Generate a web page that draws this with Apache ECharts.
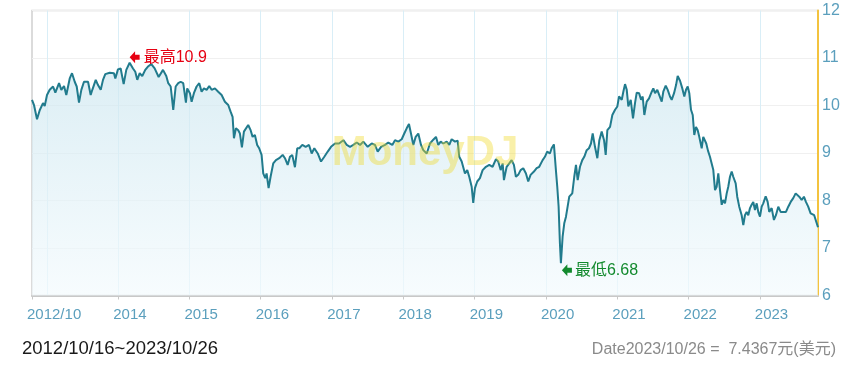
<!DOCTYPE html>
<html>
<head>
<meta charset="utf-8">
<script src="https://cdn.jsdelivr.net/npm/echarts@6/dist/echarts.min.js"></script>
<style>
html,body{margin:0;padding:0;background:#fff;}
#chart{width:850px;height:368px;}
</style>
</head>
<body>
<div id="chart"></div>
<script>
// ---- data (dates as decimal years, NAV values) ----
const years = [
2012.790,2012.818,2012.860,2012.898,2012.944,2012.968,2013.000,2013.038,2013.085,2013.117,
2013.169,2013.201,2013.239,2013.271,2013.319,2013.351,2013.389,2013.417,2013.449,2013.482,
2013.519,2013.576,2013.613,2013.636,2013.684,2013.716,2013.754,2013.786,2013.818,2013.880,
2013.940,2013.959,2013.996,2014.034,2014.076,2014.113,2014.160,2014.207,2014.239,2014.267,
2014.301,2014.337,2014.379,2014.417,2014.464,2014.511,2014.567,2014.628,2014.674,
2014.702,2014.736,2014.772,2014.806,2014.842,2014.876,2014.912,2014.950,2014.968,2015.006,
2015.030,2015.062,2015.100,2015.137,2015.170,2015.203,2015.241,2015.277,2015.311,2015.357,
2015.403,2015.451,2015.497,2015.544,2015.577,2015.605,2015.624,2015.652,2015.684,2015.708,
2015.736,2015.764,2015.792,2015.824,2015.858,2015.886,2015.918,2015.950,2015.978,2016.012,
2016.035,2016.063,2016.082,2016.110,2016.138,2016.175,2016.213,2016.259,2016.307,2016.339,
2016.377,2016.409,2016.441,2016.479,2016.511,2016.540,
2016.582,2016.629,2016.676,2016.713,2016.750,2016.798,2016.844,2016.890,2016.938,2016.984,
2017.040,2017.096,2017.157,2017.204,2017.251,2017.297,2017.345,2017.391,2017.437,2017.499,
2017.555,2017.601,2017.639,2017.686,2017.742,2017.788,2017.844,2017.882,2017.928,2017.976,
2018.012,2018.046,2018.078,2018.106,2018.139,2018.172,2018.209,2018.247,2018.279,2018.327,
2018.373,2018.419,
2018.457,2018.489,2018.523,2018.559,2018.607,2018.644,2018.677,2018.724,2018.761,2018.784,
2018.818,2018.840,2018.864,2018.896,2018.924,2018.958,2018.980,2019.004,2019.036,2019.074,
2019.112,2019.158,2019.205,2019.252,2019.299,2019.331,2019.365,2019.393,2019.411,2019.449,
2019.485,2019.519,2019.551,2019.579,2019.611,2019.645,2019.682,2019.720,2019.752,2019.785,
2019.832,2019.870,2019.906,2019.954,2019.986,2020.018,2020.056,2020.080,2020.112,2020.140,
2020.159,2020.178,2020.196,2020.210,2020.234,2020.257,2020.281,2020.304,2020.327,
2020.369,2020.397,2020.421,2020.445,2020.477,2020.509,2020.537,2020.571,2020.603,2020.631,
2020.655,2020.687,2020.720,2020.748,2020.781,2020.814,2020.837,2020.860,2020.898,2020.930,
2020.968,2021.000,2021.024,2021.062,2021.084,2021.108,2021.132,2021.154,2021.188,2021.220,
2021.248,2021.272,2021.305,2021.333,2021.356,2021.379,2021.412,2021.445,2021.483,2021.505,
2021.529,2021.561,2021.589,2021.623,2021.645,2021.679,2021.707,2021.739,2021.763,2021.796,
2021.824,2021.847,2021.880,2021.912,2021.940,2021.964,2021.988,2022.010,2022.034,2022.058,
2022.080,2022.104,2022.128,2022.150,2022.184,2022.206,2022.248,2022.272,
2022.300,2022.324,2022.347,2022.371,2022.394,2022.417,2022.441,2022.465,2022.487,2022.511,
2022.535,2022.557,2022.581,2022.605,2022.627,2022.661,2022.683,2022.711,2022.745,2022.768,
2022.791,2022.815,2022.838,2022.862,2022.885,2022.908,2022.932,2022.956,2022.978,2023.002,
2023.026,2023.048,2023.082,2023.110,2023.132,2023.166,2023.198,2023.226,2023.259,2023.292,
2023.329,2023.367,2023.399,2023.433,2023.469,2023.503,2023.531,2023.553,2023.587,2023.619,
2023.647,2023.679,2023.713,2023.741,2023.763,2023.787,2023.8165
];
const nav = [
10.12,10.01,9.71,9.90,10.05,9.99,10.22,10.33,10.40,10.27,
10.47,10.33,10.41,10.22,10.57,10.68,10.50,10.40,10.06,10.33,
10.50,10.50,10.22,10.33,10.54,10.43,10.33,10.54,10.66,10.69,
10.68,10.57,10.76,10.78,10.45,10.75,10.90,10.78,10.71,10.54,
10.68,10.62,10.75,10.82,10.87,10.78,10.60,10.75,10.62,
10.47,10.40,9.91,10.40,10.47,10.50,10.47,10.06,10.36,10.26,
10.08,10.26,10.40,10.47,10.29,10.36,10.33,10.41,10.33,10.36,
10.29,10.22,10.08,10.01,9.87,9.76,9.31,9.52,9.48,9.41,
9.12,9.45,9.45,9.59,9.48,9.34,9.38,9.17,9.10,8.96,
8.57,8.47,8.57,8.26,8.50,8.78,8.85,8.89,8.96,8.89,
8.75,8.92,8.96,8.70,9.10,9.10,
9.17,9.13,9.17,8.99,9.10,8.99,8.82,8.92,9.03,9.13,
9.20,9.20,9.27,9.17,9.13,9.17,9.22,9.17,9.24,9.13,
9.20,9.17,9.03,9.13,9.17,9.22,9.17,9.27,9.24,9.29,
9.41,9.52,9.61,9.41,9.17,9.34,9.41,9.17,9.06,8.99,
9.20,9.28,
9.34,9.17,9.24,9.20,9.24,9.17,9.29,9.24,9.26,8.92,
8.82,8.85,8.57,8.64,8.50,8.29,7.95,8.26,8.40,8.47,
8.64,8.71,8.75,8.71,8.87,8.82,8.64,8.78,8.43,8.71,
8.78,8.85,8.75,8.50,8.54,8.64,8.68,8.57,8.40,8.54,
8.61,8.68,8.71,8.85,8.92,9.03,8.99,9.10,9.18,8.64,
8.29,7.87,7.10,6.68,7.24,7.52,7.66,7.87,8.08,
8.15,8.50,8.75,8.43,8.71,8.85,8.92,9.06,9.10,9.20,
9.41,9.13,8.89,9.27,9.45,9.27,8.96,9.48,9.55,9.80,
9.91,9.98,10.19,10.12,10.29,10.45,10.33,9.98,10.12,9.73,
10.05,10.27,10.26,10.12,10.19,9.80,10.08,10.15,10.29,10.36,
10.26,10.33,10.33,10.08,10.29,10.42,10.33,10.19,10.12,10.26,
10.43,10.62,10.52,10.36,10.19,10.33,10.40,10.26,9.91,9.80,
9.38,9.55,9.48,9.34,9.10,9.34,9.20,9.05,
8.92,8.78,8.64,8.22,8.29,8.57,8.22,7.91,8.01,7.94,
8.15,8.29,8.50,8.61,8.50,8.36,8.08,7.87,7.69,7.48,
7.69,7.76,7.69,7.84,7.91,7.97,7.80,7.94,7.76,7.66,
7.87,7.94,8.09,7.97,7.76,7.84,7.59,7.69,7.87,7.76,
7.76,7.76,7.87,7.97,8.05,8.15,8.19,8.08,8.01,8.08,
7.97,7.87,7.73,7.76,7.69,7.73,7.4367
];
const firstTickLabel = '2012/10';
const labelYears = [2014,2015,2016,2017,2018,2019,2020,2021,2022,2023];
const gridYears = [2013,2014,2015,2016,2017,2018,2019,2020,2021,2022,2023];
const yMin = 6, yMax = 12, yStep = 1;
const rangeStart = '2012/10/16', rangeEnd = '2023/10/26';
const lastDate = '2023/10/26', lastValue = '7.4367';
const maxPrefix = '最高', minPrefix = '最低';

// ---- helpers ----
function yearToTime(y) {
  const Y = Math.floor(y);
  const a = Date.UTC(Y, 0, 1), b = Date.UTC(Y + 1, 0, 1);
  return a + (y - Y) * (b - a);
}
const seriesData = years.map((y, i) => [yearToTime(y), nav[i]]);
const tMin = seriesData[0][0], tMax = seriesData[seriesData.length - 1][0];
const labelTicks = [tMin].concat(labelYears.map(y => Date.UTC(y, 0, 1)));
const gridTicks = gridYears.map(y => Date.UTC(y, 0, 1));

const FONT = "'Liberation Sans', 'Noto Sans CJK TC', Arial, sans-serif";
const arrowPath = 'path://M0,6L6,0L6,3.5L11,3.5L11,8.5L6,8.5L6,12Z';

const chart = echarts.init(document.getElementById('chart'), null, {renderer: 'canvas'});
chart.setOption({
  animation: false,
  textStyle: {fontFamily: FONT},
  title: [
    {text: rangeStart + '~' + rangeEnd, left: 17, top: 335,
     textStyle: {fontFamily: FONT, fontSize: 18.5, fontWeight: 'normal', color: '#1a1a1a'}},
    {text: 'Date' + lastDate + ' =  ' + lastValue + '元(美元)', right: 9, top: 337,
     textStyle: {fontFamily: FONT, fontSize: 16, fontWeight: 'normal', color: '#8a8a8a'}}
  ],
  grid: {left: 32, right: 32, top: 10.5, bottom: 72.5, show: true,
         borderColor: '#cfcfcf', borderWidth: 1.5, backgroundColor: 'transparent'},
  xAxis: [
    {type: 'value', min: tMin, max: tMax, position: 'bottom', scale: true,
     axisLine: {show: true, lineStyle: {color: '#c8c8c8', width: 2}},
     axisTick: {show: true, length: 4, lineStyle: {color: '#c8c8c8', width: 1}, customValues: labelTicks},
     axisLabel: {customValues: labelTicks, color: '#5b9fbd', fontSize: 15, fontFamily: FONT,
                 margin: 12, align: 'left', padding: [0, 0, 0, -5],
                 formatter: function (v) { return v === tMin ? firstTickLabel : String(new Date(v).getUTCFullYear()); }},
     splitLine: {show: false}},
    {type: 'value', min: tMin, max: tMax, position: 'bottom', scale: true,
     axisLine: {show: false}, axisLabel: {show: false},
     axisTick: {show: false, customValues: gridTicks},
     splitLine: {show: true, lineStyle: {color: '#d9eef7', width: 1}}}
  ],
  yAxis: {type: 'value', position: 'right', min: yMin, max: yMax, interval: yStep,
          axisLine: {show: true, lineStyle: {color: '#f3c33f', width: 2}},
          axisTick: {show: false},
          axisLabel: {color: '#5b9fbd', fontSize: 16, fontFamily: FONT, margin: 4, padding: [0, 0, 6, 0]},
          splitLine: {show: true, lineStyle: {color: '#f0f0f0', width: 1}}},
  series: [{
    type: 'line', xAxisIndex: 0, data: seriesData, showSymbol: false, symbol: 'none',
    lineStyle: {color: '#217b8d', width: 2},
    areaStyle: {color: new echarts.graphic.LinearGradient(0, 0, 0, 1, [
      {offset: 0, color: '#cce6ef'}, {offset: 1, color: '#f3fafd'}])},
    markPoint: {
      symbol: arrowPath, symbolSize: [10, 12], silent: true,
      data: [
        {type: 'max', symbolOffset: [5, -5.5], itemStyle: {color: '#e60012'},
         label: {show: true, position: 'right', distance: 4, color: '#e60012', fontSize: 16, fontFamily: FONT,
                 formatter: p => maxPrefix + p.value}},
        {type: 'min', symbolOffset: [6, 7], itemStyle: {color: '#138a2e'},
         label: {show: true, position: 'right', distance: 3, color: '#138a2e', fontSize: 16, fontFamily: FONT,
                 formatter: p => minPrefix + p.value}}
      ]
    }
  }],
  graphic: [{type: 'text', x: 425, y: 153, z: 100, silent: true,
    style: {text: 'MoneyDJ', fill: 'rgba(240, 218, 40, 0.4)', font: "bold 42px 'Liberation Sans', Arial, sans-serif",
            textAlign: 'center', textVerticalAlign: 'middle'}}]
});
</script>
</body>
</html>
